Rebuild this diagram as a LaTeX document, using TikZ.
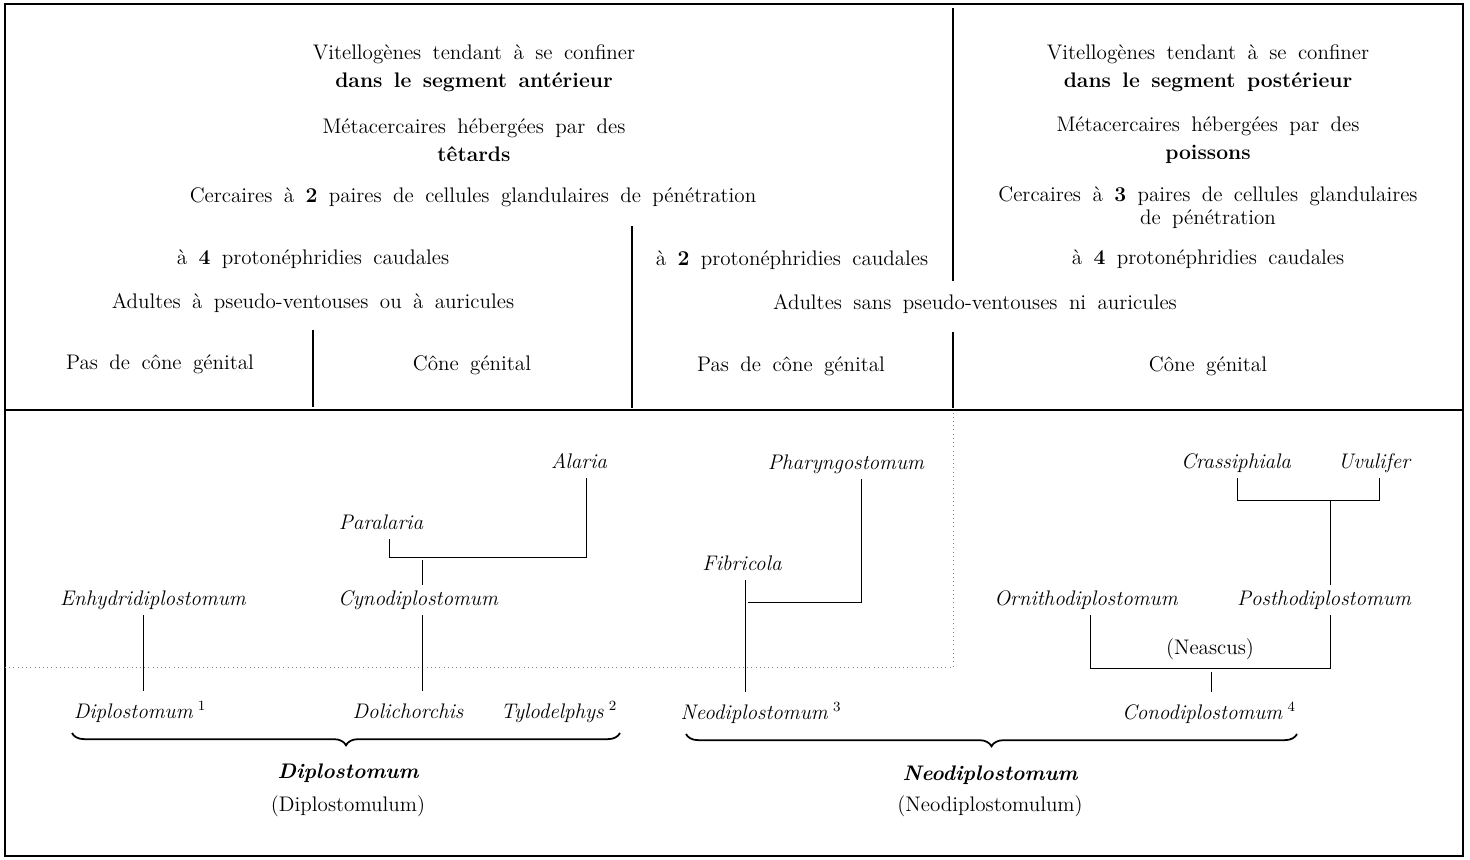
\documentclass[tikz,border=0pt]{standalone}
\usepackage{tikz}
\usetikzlibrary{calc}
\usetikzlibrary{decorations.pathreplacing}
\newcommand{\wide}{\fontsize{12}{16}\selectfont\spaceskip=6.5pt plus 1pt minus 1pt\relax}

\tikzset{
  txt/.style={font=\wide, align=center, inner sep=0pt},
  taxon/.style={font=\wide\itshape, inner sep=3pt, text height=8.5pt, text depth=2.5pt},
  leaf/.style={taxon, outer sep=4pt},
  rule/.style={line width=0.8pt},
  tree/.style={line width=0.5pt},
  bracket/.style={line width=1pt, decorate, decoration={brace, mirror, amplitude=7pt}}
}

\begin{document}
\begin{tikzpicture}[x=0.02cm, y=-0.02cm]
            \useasboundingbox (0,0) rectangle (1470,859);
            % frame and table rules
            \draw[rule] (5,4) rectangle (1463,856);
            \draw[line width=1.5pt] (5,4) -- (1463,4);
            \draw[line width=1pt] (5,410) -- (1463,410);
            \draw[rule] (953,8) -- (953,281);
            \draw[rule] (953,332) -- (953,408);
            \draw[rule] (632,226) -- (632,408);
            \draw[rule] (313,330) -- (313,407);
            \draw[dotted, gray] (5,667) -- (953,667) -- (953,413);

            \node[txt] (vitA) at (474,68) {Vitellogènes tendant à se confiner\\\textbf{dans le segment antérieur}};
            \node[txt] (metaA) at (474,140) {Métacercaires hébergées par des\\\textbf{têtards}};
            \node[txt] (cercA) at (473,197) {Cercaires à \textbf{2} paires de cellules glandulaires de pénétration};
            \node[txt] (protoA) at (313,259) {à \textbf{4} protonéphridies caudales};
            \node[txt] (adA) at (313,303) {Adultes à pseudo-ventouses ou à auricules};
            \node[txt] (noconeA) at (160,364) {Pas de cône génital};
            \node[txt] (coneA) at (472,365) {Cône génital};

            \node[txt] (protoB) at (792,260) {à \textbf{2} protonéphridies caudales};
            \node[txt] (adB) at (975,304) {Adultes sans pseudo-ventouses ni auricules};
            \node[txt] (noconeB) at (791,366) {Pas de cône génital};
            \node[txt] (coneB) at (1208,366) {Cône génital};

            \node[txt] (vitB) at (1208,68) {Vitellogènes tendant à se confiner\\\textbf{dans le segment postérieur}};
            \node[txt] (metaB) at (1208,140) {Métacercaires hébergées par des\\\textbf{poissons}};
            \node[txt] (cercB) at (1208,208) {Cercaires à \textbf{3} paires de cellules glandulaires\\[-3pt]de pénétration};
            \node[txt] (protoC) at (1208,259) {à \textbf{4} protonéphridies caudales};

            % Diplostomum group
            \node[taxon] (alaria) at (579,463) {Alaria};
            \node[taxon] (paralaria) at (381,524) {Paralaria};
            \node[taxon] (cyno) at (418,600) {Cynodiplostomum};
            \node[taxon] (enhydri) at (153,600) {Enhydridiplostomum};
            \node[leaf] (diplo) at (140,713) {Diplostomum\kern3pt\textsuperscript{\upshape 1}};
            \node[leaf] (dolich) at (408,713) {Dolichorchis};
            \node[leaf] (tylo) at (559,713) {Tylodelphys\kern3pt\textsuperscript{\upshape 2}};

            \coordinate (pa) at (389,557);
            \coordinate (al) at (586,557);
            \coordinate (cy) at (422,560);
            \coordinate (en) at (143,650);
            \draw[tree] (paralaria.south -| pa) -- (pa) -- (al) -- (alaria.south -| al);
            \draw[tree] (cy) -- (cy |- cyno.north);
            \draw[tree] (cyno.south -| cy) -- (cy |- dolich.north);
            \draw[tree] (enhydri.south -| en) -- (en |- diplo.north);

            % Neodiplostomum group
            \node[taxon] (pharyngo) at (846,464) {Pharyngostomum};
            \node[taxon] (fibricola) at (742,565) {Fibricola};
            \node[leaf] (neodiplo) at (761,714) {Neodiplostomum\kern3pt\textsuperscript{\upshape 3}};
            \node[taxon] (crassi) at (1236,463) {Crassiphiala};
            \node[taxon] (uvulifer) at (1374,463) {Uvulifer};
            \node[taxon] (ornitho) at (1086,600) {Ornithodiplostomum};
            \node[taxon] (postho) at (1324,600) {Posthodiplostomum};
            \node[txt] (neascus) at (1210,649) {(Neascus)};
            \node[leaf] (conodiplo) at (1209,714) {Conodiplostomum\kern3pt\textsuperscript{\upshape 4}};

            \coordinate (ph) at (861,602);
            \coordinate (fb) at (748,602);
            \coordinate (fi) at (745,650);
            \draw[tree] (pharyngo.south -| ph) -- (ph) -- (fb);
            \draw[tree] (fibricola.south -| fi) -- (fi |- neodiplo.north);
            \coordinate (cr) at (1237,500);
            \coordinate (uv) at (1379,500);
            \coordinate (po) at (1330,500);
            \coordinate (or) at (1090,668);
            \coordinate (pj) at (1330,668);
            \coordinate (co) at (1211,672);
            \draw[tree] (crassi.south -| cr) -- (cr) -- (uv) -- (uvulifer.south -| uv);
            \draw[tree] (po) -- (po |- postho.north);
            \draw[tree] (ornitho.south -| or) -- (or) -- (pj) -- (postho.south -| pj);
            \draw[tree] (co) -- (co |- conodiplo.north);

            % genera and larvae
            \coordinate (bDl) at (72,733);
            \coordinate (bDr) at (620,733);
            \coordinate (bNl) at (686,734);
            \coordinate (bNr) at (1297,734);
            \draw[bracket] (bDl) -- (bDr);
            \draw[bracket] (bNl) -- (bNr);
            \node[txt, font=\wide\bfseries\itshape] (genD) at (348,773) {Diplostomum};
            \node[txt] (larD) at (348,806) {(Diplostomulum)};
            \node[txt, font=\wide\bfseries\itshape] (genN) at (990,775) {Neodiplostomum};
            \node[txt] (larN) at (990,806) {(Neodiplostomulum)};
        \end{tikzpicture}
\end{document}
